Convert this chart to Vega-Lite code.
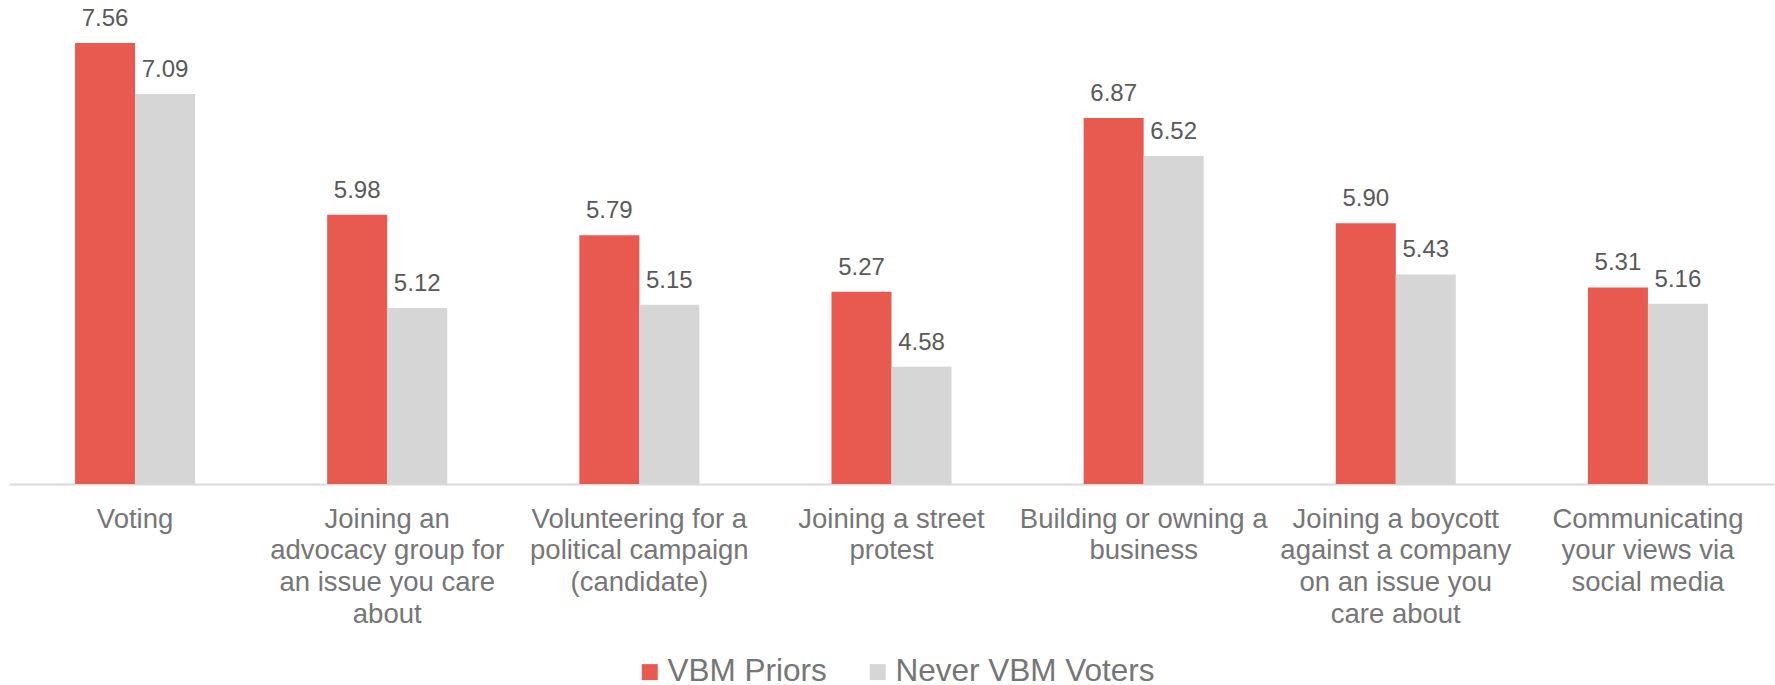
{
  "$schema": "https://vega.github.io/schema/vega-lite/v6.json",
  "width": 1765,
  "height": 467,
  "autosize": {"type": "none"},
  "padding": {"left": 9, "top": 17, "right": 1, "bottom": 201},
  "background": "white",
  "config": {"view": {"stroke": null}, "font": "Liberation Sans"},
  "data": {
    "values": [
      {"activity": "Voting", "group": "VBM Priors", "value": 7.56},
      {"activity": "Voting", "group": "Never VBM Voters", "value": 7.09},
      {"activity": "Joining an|advocacy group for|an issue you care|about", "group": "VBM Priors", "value": 5.98},
      {"activity": "Joining an|advocacy group for|an issue you care|about", "group": "Never VBM Voters", "value": 5.12},
      {"activity": "Volunteering for a|political campaign|(candidate)", "group": "VBM Priors", "value": 5.79},
      {"activity": "Volunteering for a|political campaign|(candidate)", "group": "Never VBM Voters", "value": 5.15},
      {"activity": "Joining a street|protest", "group": "VBM Priors", "value": 5.27},
      {"activity": "Joining a street|protest", "group": "Never VBM Voters", "value": 4.58},
      {"activity": "Building or owning a|business", "group": "VBM Priors", "value": 6.87},
      {"activity": "Building or owning a|business", "group": "Never VBM Voters", "value": 6.52},
      {"activity": "Joining a boycott|against a company|on an issue you|care about", "group": "VBM Priors", "value": 5.90},
      {"activity": "Joining a boycott|against a company|on an issue you|care about", "group": "Never VBM Voters", "value": 5.43},
      {"activity": "Communicating|your views via|social media", "group": "VBM Priors", "value": 5.31},
      {"activity": "Communicating|your views via|social media", "group": "Never VBM Voters", "value": 5.16}
    ]
  },
  "encoding": {
    "x": {
      "field": "activity",
      "type": "nominal",
      "sort": null,
      "scale": {"paddingInner": 0.524, "paddingOuter": 0.262},
      "axis": {
        "title": null,
        "labelAngle": 0,
        "labelExpr": "split(datum.label, '|')",
        "labelFont": "Liberation Sans",
        "labelFontSize": 27.5,
        "labelLineHeight": 31.7,
        "labelColor": "#767676",
        "labelBaseline": "top",
        "labelPadding": 21,
        "labelLimit": 0,
        "ticks": false,
        "domainColor": "#D9D9D9",
        "domainWidth": 2
      }
    },
    "xOffset": {
      "field": "group",
      "type": "nominal",
      "sort": ["VBM Priors", "Never VBM Voters"],
      "scale": {"paddingInner": 0, "paddingOuter": 0}
    },
    "y": {
      "field": "value",
      "type": "quantitative",
      "scale": {"domain": [3.5, 7.8], "nice": false, "zero": false},
      "axis": null
    }
  },
  "layer": [
    {
      "mark": {"type": "bar"},
      "encoding": {
        "y2": {"datum": 3.5},
        "color": {
          "field": "group",
          "type": "nominal",
          "sort": ["VBM Priors", "Never VBM Voters"],
          "scale": {"domain": ["VBM Priors", "Never VBM Voters"], "range": ["#E8594F", "#D6D6D6"]},
          "legend": {
            "title": null,
            "orient": "none",
            "direction": "horizontal",
            "legendX": 625,
            "legendY": 639,
            "symbolType": "square",
            "symbolSize": 256,
            "symbolStrokeWidth": 0,
            "labelFont": "Liberation Sans",
            "labelFontSize": 31.5,
            "labelColor": "#767676",
            "labelOffset": 2,
            "columnPadding": 35,
            "labelLimit": 0
          }
        }
      }
    },
    {
      "mark": {"type": "text", "baseline": "alphabetic", "dy": -17, "fontSize": 24, "color": "#595959", "font": "Liberation Sans"},
      "encoding": {
        "text": {"field": "value", "type": "quantitative", "format": ".2f"}
      }
    }
  ]
}
